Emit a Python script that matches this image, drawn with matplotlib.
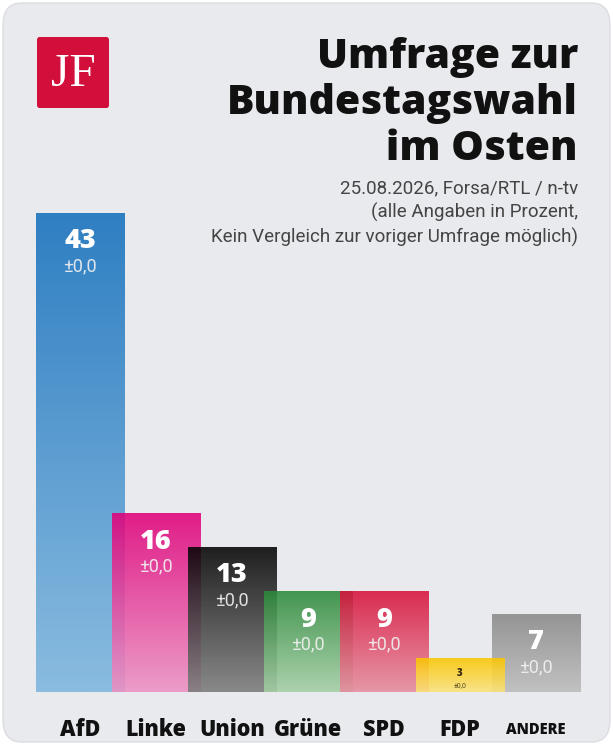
import matplotlib
matplotlib.use("Agg")
import matplotlib.pyplot as plt
import numpy as np
from matplotlib.colors import LinearSegmentedColormap
from matplotlib.patches import FancyBboxPatch

# --- DATEN ---
parties = ["AfD", "Linke", "Union", "Grüne", "SPD", "FDP", "ANDERE"]
values = [43, 16, 13, 9, 9, 3, 7]
changes = ["±0,0", "±0,0", "±0,0", "±0,0", "±0,0", "±0,0", "±0,0"]
top_colors = ["#1570bd", "#e0007a", "#030303", "#2c8a3a", "#d8113a", "#fcc700", "#898989"]
bottom_colors = ["#7db6de", "#ec92c3", "#7c7c7c", "#a5cfa5", "#e68c9e", "#fbe27a", "#bcbcbc"]

W, H = 613, 745
fig = plt.figure(figsize=(W / 100, H / 100), dpi=100)
fig.patch.set_facecolor("white")

# Karte im Hintergrund
card = FancyBboxPatch((3 / W, 3 / H), (W - 6) / W, (H - 6) / H,
                      boxstyle="round,pad=0,rounding_size=0.03",
                      transform=fig.transFigure, facecolor="#e9eaee",
                      edgecolor="#dcdde2", linewidth=1.0, zorder=-10)
fig.patches.append(card)

# Logo
logo = FancyBboxPatch((37 / W, 1 - 108 / H), 72 / W, 71 / H,
                      boxstyle="round,pad=0,rounding_size=0.004",
                      transform=fig.transFigure, facecolor="#d20f3b", edgecolor="none",
                      zorder=-5)
fig.patches.append(logo)
fig.text(73 / W, 1 - 75 / H, "JF", color="white", fontsize=34,
         family="Liberation Serif", ha="center", va="center")

# Titel
title_lines = ["Umfrage zur", "Bundestagswahl", "im Osten"]
for i, line in enumerate(title_lines):
    fig.text(578 / W, 1 - (68 + 46 * i) / H, line, ha="right", va="baseline",
             fontsize=29.5, family="Open Sans", weight=800, color="#111111")

sub_lines = ["25.08.2026, Forsa/RTL / n-tv",
             "(alle Angaben in Prozent,",
             "Kein Vergleich zur voriger Umfrage möglich)"]
for i, line in enumerate(sub_lines):
    fig.text(578 / W, 1 - (188 + 24.5 * i) / H, line, ha="right", va="center",
             fontsize=13.5, family="Roboto", weight="normal", color="#444444")

# --- BALKEN ---
ax = fig.add_axes([36 / W, 53 / H, 544 / W, 479 / H])
ax.set_xlim(-0.579, 6.579)
ax.set_ylim(0, 43)
ax.axis("off")

x = np.arange(len(parties))
bars = ax.bar(x, values, width=1.158, color="none", edgecolor="none")

grad = np.linspace(0, 1, 256).reshape(-1, 1)
for i, b in enumerate(bars):
    cmap = LinearSegmentedColormap.from_list(parties[i], [bottom_colors[i], top_colors[i]])
    x0, y0 = b.get_x(), b.get_y()
    ax.imshow(grad, cmap=cmap, origin="lower", aspect="auto", alpha=0.88,
              extent=[x0, x0 + b.get_width(), y0, y0 + b.get_height()],
              zorder=2 + (i if parties[i] != "ANDERE" else 4))

px = 43 / 479  # Dateneinheiten pro Pixel
for i, v in enumerate(values):
    if v >= 5:
        ax.text(x[i], v - 28 * px, str(v), ha="center", va="center", color="white",
                fontsize=19.5, family="Open Sans", weight=800, zorder=20)
        ax.text(x[i], v - 53 * px, changes[i], ha="center", va="center", color="#f2f2f2",
                fontsize=13, family="Roboto", weight="normal", alpha=0.9, zorder=20)
    else:
        ax.text(x[i], v - 15 * px, str(v), ha="center", va="center", color="#3a2a10",
                fontsize=7, family="Open Sans", weight=800, zorder=20)
        ax.text(x[i], v - 27 * px, changes[i], ha="center", va="center", color="#5a4a20",
                fontsize=5, family="Roboto", zorder=20)

for i, p in enumerate(parties):
    fs = 10.5 if p == "ANDERE" else 15.5
    ax.text(x[i], -38 * px, p, ha="center", va="center", color="#111111",
            fontsize=fs, family="Open Sans", weight=800, clip_on=False)

ax.set_xlim(-0.579, 6.579)
ax.set_ylim(0, 43)

fig.savefig("out.png", dpi=100, facecolor=fig.get_facecolor())
